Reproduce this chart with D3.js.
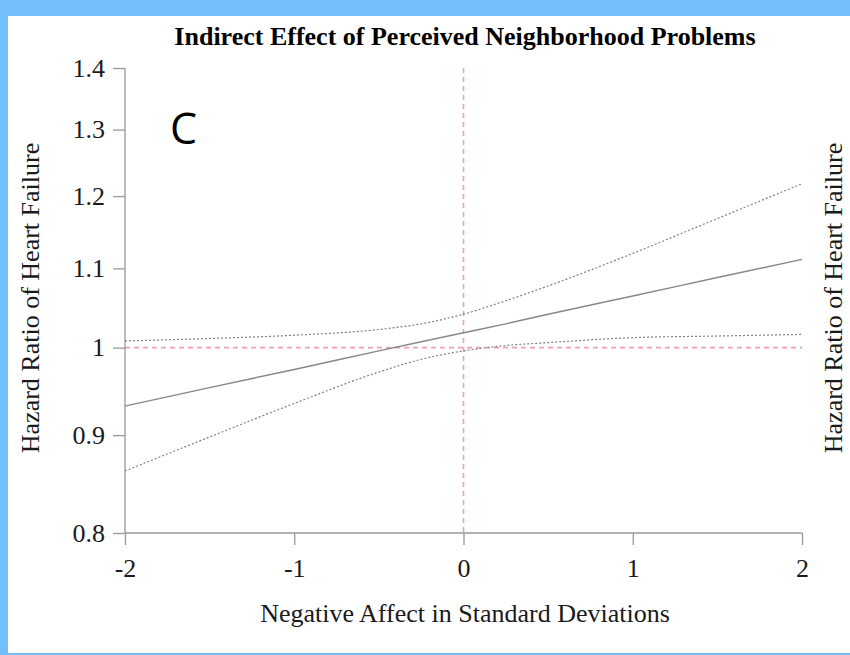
<!DOCTYPE html>
<html lang="en">
<head>
<meta charset="utf-8">
<title>Indirect Effect of Perceived Neighborhood Problems</title>
<script src="https://d3js.org/d3.v7.min.js"></script>
<style>
  body { margin: 0; padding: 0; overflow: hidden; }
  text { font-family: "Liberation Serif", "Times New Roman", serif; }
</style>
</head>
<body>
<script>
// values
var xs      = [-2, -1.5, -1, -0.5, -0.25, 0, 0.25, 0.5, 1, 1.5, 2];
var hr      = [0.932, 0.953, 0.974, 0.996, 1.007, 1.018, 1.029, 1.041, 1.064, 1.088, 1.112];
var upperCI = [1.008, 1.011, 1.015, 1.022, 1.029, 1.041, 1.058, 1.077, 1.120, 1.168, 1.218];
var lowerCI = [0.862, 0.898, 0.935, 0.971, 0.986, 0.996, 1.0025, 1.006, 1.012, 1.014, 1.016];
var yTicks  = [0.8, 0.9, 1, 1.1, 1.2, 1.3, 1.4];
var xTicks  = [-2, -1, 0, 1, 2];

var width = 850, height = 655;
var svg = d3.select("body").append("svg")
    .attr("width", width)
    .attr("height", height);

// slide frame
svg.append("rect").attr("width", width).attr("height", height).attr("fill", "#72bffc");
svg.append("rect").attr("x", 8).attr("y", 16).attr("width", width - 8).attr("height", 637).attr("fill", "#fff");

var x = d3.scaleLinear().domain([-2, 2]).range([125, 802]);
var y = d3.scaleLog().domain([0.8, 1.4]).range([533, 68]);

var axisColor = "#999";
var refColor = "#ee9fb1";

// reference lines
svg.append("line")
    .attr("x1", x(-2)).attr("x2", x(2))
    .attr("y1", y(1)).attr("y2", y(1))
    .attr("stroke", refColor).attr("stroke-width", 1.6)
    .attr("stroke-dasharray", "5,4");
svg.append("line")
    .attr("x1", x(0)).attr("x2", x(0))
    .attr("y1", y(1.4)).attr("y2", y(0.8))
    .attr("stroke", refColor).attr("stroke-width", 1.6)
    .attr("stroke-dasharray", "5,4");

// axes
var yAxis = svg.append("g")
    .attr("transform", "translate(" + x(-2) + ",0)")
    .call(d3.axisLeft(y).tickValues(yTicks).tickSize(12).tickPadding(8)
        .tickFormat(function(d) { return String(d); }));
var xAxis = svg.append("g")
    .attr("transform", "translate(0," + y(0.8) + ")")
    .call(d3.axisBottom(x).tickValues(xTicks).tickSize(12).tickPadding(14)
        .tickFormat(function(d) { return String(d); }));

[yAxis, xAxis].forEach(function(a) {
  a.selectAll(".domain").attr("stroke", axisColor).attr("stroke-width", 1.3);
  a.selectAll(".tick line").attr("stroke", axisColor).attr("stroke-width", 1.3);
  a.selectAll(".tick text")
      .attr("font-family", "Liberation Serif, serif")
      .attr("font-size", 26)
      .attr("fill", "#1a1a1a");
});
xAxis.select(".domain").attr("d", "M" + x(-2) + ",0H" + x(2));
yAxis.select(".domain").attr("d", "M0," + y(1.4) + "V" + y(0.8));

// lines
var pts = function(vals) { return xs.map(function(d, i) { return [d, vals[i]]; }); };
var line = d3.line()
    .x(function(d) { return x(d[0]); })
    .y(function(d) { return y(d[1]); })
    .curve(d3.curveMonotoneX);

svg.append("path").attr("d", line(pts(upperCI)))
    .attr("fill", "none").attr("stroke", "#808080").attr("stroke-width", 1.2)
    .attr("stroke-dasharray", "2,2");
svg.append("path").attr("d", line(pts(lowerCI)))
    .attr("fill", "none").attr("stroke", "#808080").attr("stroke-width", 1.2)
    .attr("stroke-dasharray", "2,2");
svg.append("path").attr("d", line(pts(hr)))
    .attr("fill", "none").attr("stroke", "#888").attr("stroke-width", 1.4);

// titles and labels
svg.append("text")
    .attr("x", 465).attr("y", 45)
    .attr("text-anchor", "middle")
    .attr("font-size", 26).attr("font-weight", "bold")
    .text("Indirect Effect of Perceived Neighborhood Problems");

svg.append("text")
    .attr("x", 465).attr("y", 622)
    .attr("text-anchor", "middle")
    .attr("font-size", 26).attr("fill", "#1a1a1a")
    .text("Negative Affect in Standard Deviations");

svg.append("text")
    .attr("transform", "translate(39,298) rotate(-90)")
    .attr("text-anchor", "middle")
    .attr("font-size", 26).attr("fill", "#1a1a1a")
    .text("Hazard Ratio of Heart Failure");

svg.append("text")
    .attr("transform", "translate(842,298) rotate(-90)")
    .attr("text-anchor", "middle")
    .attr("font-size", 26).attr("fill", "#1a1a1a")
    .text("Hazard Ratio of Heart Failure");

svg.append("text")
    .attr("x", 170).attr("y", 144)
    .style("font-family", "'Open Sans', 'Noto Sans', sans-serif")
    .attr("font-size", 43)
    .text("C");
</script>
</body>
</html>
